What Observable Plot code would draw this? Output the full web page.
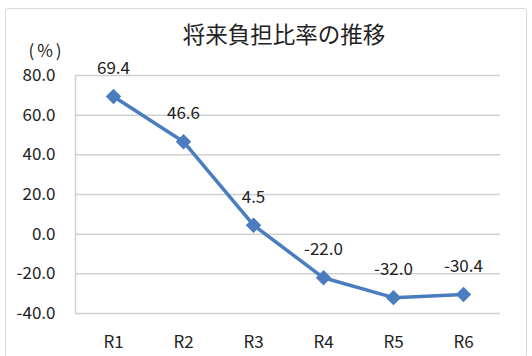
<!DOCTYPE html>
<html><head><meta charset="utf-8">
<script src="https://cdn.jsdelivr.net/npm/d3@7"></script>
<script src="https://cdn.jsdelivr.net/npm/@observablehq/plot@0.6"></script>
<style>
body{margin:0;background:#fff;}
#wrap{position:relative;width:532px;height:356px;}
#border{position:absolute;left:5px;top:8px;width:522px;height:350px;border:1.5px solid #d9d9d9;border-radius:3px;box-sizing:border-box;pointer-events:none;}
.unit{letter-spacing:3px;}
</style></head>
<body><div id="wrap"><div id="border"></div></div>
<script>
const categories = ["R1","R2","R3","R4","R5","R6"];
const values = [69.4, 46.6, 4.5, -22.0, -32.0, -30.4];
const yTicks = [80, 60, 40, 20, 0, -20, -40];
const title = "将来負担比率の推移";
const unit = "(%)";
const data = categories.map((c,i)=>({c, v: values[i]}));
const font = "'Noto Sans CJK JP', 'Noto Sans', sans-serif";
const color = "#4a7dbf";
const chart = Plot.plot({
  width: 532, height: 356,
  marginLeft: 75, marginRight: 32, marginTop: 75, marginBottom: 43,
  style: {fontFamily: font, fontSize: "17px", color: "#222", background: "transparent"},
  x: {domain: categories, type: "point", padding: 0.5, label: null},
  y: {domain: [-40, 80], label: null},
  marks: [
    Plot.gridY(yTicks, {stroke: "#d0d0d0", strokeOpacity: 1, strokeWidth: 1.5}),
    Plot.frame({anchor: "left", stroke: "#d0d0d0", strokeWidth: 1.5}),
    Plot.axisY({ticks: yTicks, tickSize: 0, tickPadding: 20, tickFormat: d => d.toFixed(1), label: null, fontSize: 17}),
    Plot.axisX({tickSize: 0, tickPadding: 22, label: null, fontSize: 17}),
    Plot.line(data, {x: "c", y: "v", stroke: color, strokeWidth: 3.5}),
    Plot.dot(data, {x: "c", y: "v", symbol: "diamond2", r: 6, fill: color, stroke: color}),
    Plot.text(data, {x: "c", y: "v", text: d => d.v.toFixed(1), dy: -28, fontSize: 17, fill: "#222"}),
    Plot.text([unit], {frameAnchor: "top-left", textAnchor: "middle", lineAnchor: "middle", dx: -29, dy: -24, fontSize: 17, fill: "#222", className: "unit"}),
    Plot.text([title], {frameAnchor: "top", lineAnchor: "middle", dy: -40, dx: -4, fontSize: 22.5, fill: "#222"})
  ]
});
document.getElementById("wrap").prepend(chart);
</script>
</body></html>
